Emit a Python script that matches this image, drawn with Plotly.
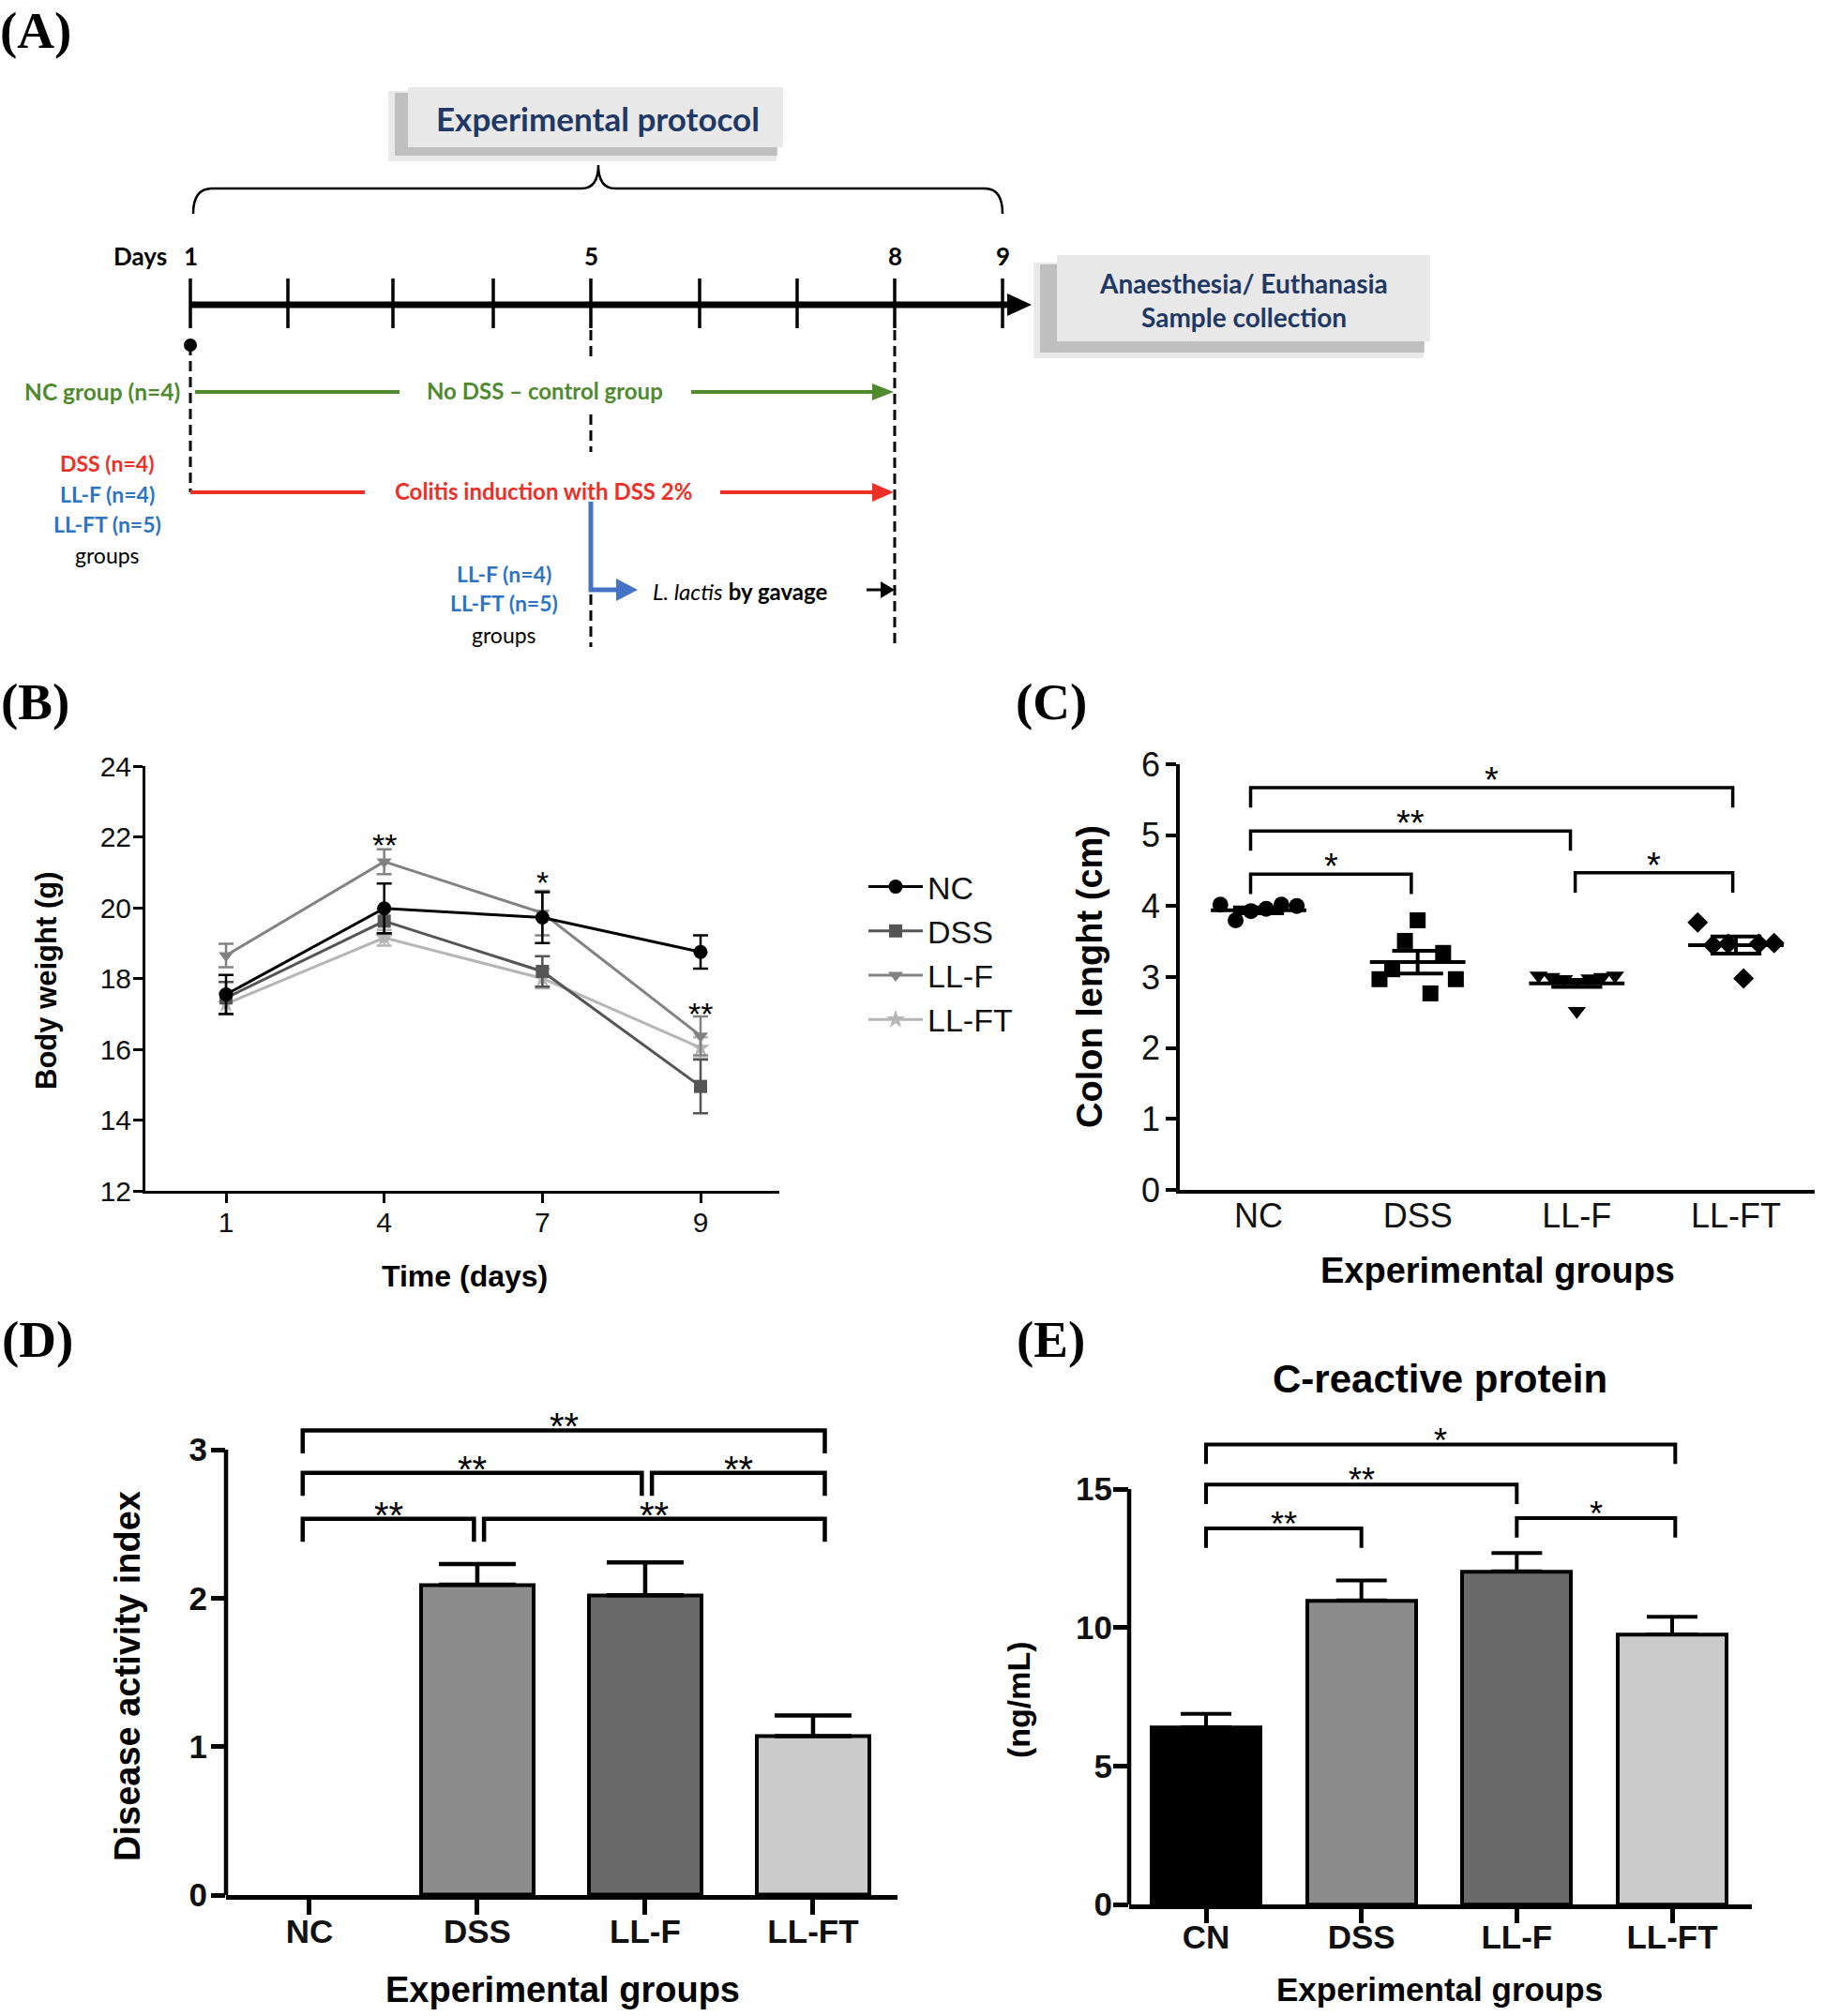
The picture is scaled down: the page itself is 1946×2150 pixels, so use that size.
import plotly.graph_objects as go
import numpy as np

W, H = 1946, 2150

# ---------------- DATA ----------------
# Panel B - body weight over time
days = ['1', '4', '7', '9']
bw_groups = ['NC', 'DSS', 'LL-F', 'LL-FT']
bw_nc = [17.55, 19.98, 19.72, 18.75]
bw_nc_err = [0.55, 0.70, 0.72, 0.47]
bw_dss = [17.45, 19.62, 18.20, 14.95]
bw_dss_err = [0.45, 0.35, 0.43, 0.76]
bw_llf = [18.65, 21.30, 19.85, 16.38]
bw_llf_err = [0.33, 0.35, 0.63, 0.55]
bw_llft = [17.28, 19.15, 18.00, 16.04]
bw_llft_err = [0.30, 0.22, 0.28, 0.30]
bw_sig = ['', '**', '*', '**']
bw_sig_y = [0, 21.95, 20.90, 17.20]

# Panel C - colon length
groups = ['NC', 'DSS', 'LL-F', 'LL-FT']
colon_nc = [4.02, 3.80, 3.93, 3.96, 4.02, 4.00]
colon_dss = [2.97, 3.11, 3.51, 3.80, 2.77, 3.34, 2.97]
colon_llf = [3.02, 3.00, 2.97, 2.52, 2.98, 3.00, 3.02]
colon_llft = [3.77, 3.45, 3.47, 2.98, 3.47, 3.48]
colon_mean = [3.94, 3.21, 2.91, 3.45]
colon_sem = [0.04, 0.16, 0.05, 0.12]
colon_cmp = [(0, 1, 4.45, '*'), (0, 2, 5.06, '**'), (0, 3, 5.67, '*'), (2, 3, 4.47, '*')]

# Panel D - disease activity index
dai = [0.0, 2.09, 2.02, 1.07]
dai_err = [0.0, 0.14, 0.22, 0.14]
dai_cmp = [(0, 1, 2.535, '**'), (1, 3, 2.535, '**'), (0, 2, 2.844, '**'),
           (2, 3, 2.844, '**'), (0, 3, 3.13, '**')]

# Panel E - C-reactive protein
crp_groups = ['CN', 'DSS', 'LL-F', 'LL-FT']
crp = [6.40, 10.98, 12.03, 9.75]
crp_err = [0.48, 0.72, 0.66, 0.64]
crp_cmp = [(0, 1, 13.58, '**'), (0, 2, 15.16, '**'), (0, 3, 16.61, '*'), (2, 3, 13.95, '*')]

# ---------------- helpers ----------------
def px(x):
    return x / W

def py(y):
    return 1 - y / H

SANS = 'Liberation Sans'
LATO = 'Lato'
NAVY = '#1f3864'
GREEN = '#4f8a2e'
RED = '#ec3027'
BLUE = '#2e74c0'
ARROWBLUE = '#4472c4'

fig = go.Figure()
shapes = []
annos = []


def pline(x0, y0, x1, y1, color='black', width=3, dash=None):
    d = dict(type='line', xref='paper', yref='paper', x0=px(x0), y0=py(y0), x1=px(x1), y1=py(y1),
             line=dict(color=color, width=width))
    if dash:
        d['line']['dash'] = dash
    shapes.append(d)


def prect(x0, y0, x1, y1, fill, opacity=1.0):
    shapes.append(dict(type='rect', xref='paper', yref='paper', x0=px(x0), y0=py(y1), x1=px(x1), y1=py(y0),
                       fillcolor=fill, opacity=opacity, line=dict(width=0), layer='below'))


def ppath(points, fill):
    p = 'M ' + ' L '.join(f'{px(a):.5f},{py(b):.5f}' for a, b in points) + ' Z'
    shapes.append(dict(type='path', xref='paper', yref='paper', path=p, fillcolor=fill, line=dict(width=0)))


def ptext(x, y, text, size, color='black', family=LATO, bold=False, angle=0, xanchor='center',
          yanchor='middle'):
    annos.append(dict(xref='paper', yref='paper', x=px(x), y=py(y), text=text, showarrow=False,
                      xanchor=xanchor, yanchor=yanchor, textangle=angle,
                      font=dict(family=family, size=size, color=color, weight='bold' if bold else 'normal')))

# ---------------- Panel A (schematic) ----------------
ptext(38, 0, '(A)', 55, family='Liberation Serif', bold=True, yanchor='top')
# Experimental protocol box with shadow
prect(414, 97, 828, 172, '#9a9a9a', 0.22)
prect(421, 99, 829, 166, '#8c8c8c', 0.45)
prect(435, 93, 835, 157, '#e8e8e8')
ptext(637, 126, 'Experimental protocol', 35, NAVY, bold=True)
# brace
bp = [(206, 228), (206, 201), (226, 201), (620, 201), (638, 201), (638, 176), (638, 201), (656, 201),
      (1050, 201), (1069, 201), (1069, 228)]
def P(a):
    return f'{px(a[0]):.5f},{py(a[1]):.5f}'
brace = (f'M {P(bp[0])} Q {P(bp[1])} {P(bp[2])} L {P(bp[3])} Q {P(bp[4])} {P(bp[5])} '
         f'Q {P(bp[6])} {P(bp[7])} L {P(bp[8])} Q {P(bp[9])} {P(bp[10])}')
shapes.append(dict(type='path', xref='paper', yref='paper', path=brace, line=dict(color='black', width=2.5)))

# timeline
tl_days = [1, 2, 3, 4, 5, 6, 7, 8, 9]
tl_x = [203, 307, 419, 526, 630, 746, 850, 954, 1069]
tl_labels = {1: '1', 5: '5', 8: '8', 9: '9'}
pline(203, 325, 1078, 325, width=7)
ppath([(1074, 313), (1100, 325), (1074, 337)], 'black')
for d, xx in zip(tl_days, tl_x):
    pline(xx, 297, xx, 350, width=3.5)
    if d in tl_labels:
        ptext(xx, 273, tl_labels[d], 26, bold=True)
ptext(149, 273, 'Days', 26, bold=True)

# Anaesthesia box
prect(1102, 280, 1518, 382, '#9a9a9a', 0.22)
prect(1109, 282, 1519, 376, '#8c8c8c', 0.45)
prect(1127, 272, 1525, 364, '#e8e8e8')
ptext(1326, 302, 'Anaesthesia/ Euthanasia', 28, NAVY, bold=True)
ptext(1326, 338, 'Sample collection', 28, NAVY, bold=True)

# start dot and dashed guides
shapes.append(dict(type='circle', xref='paper', yref='paper', x0=px(196), x1=px(210), y0=py(375), y1=py(361),
                   fillcolor='black', line=dict(width=0)))
DASH = '11px,6px'
pline(203, 368, 203, 525, width=3, dash=DASH)
pline(630, 352, 630, 386, width=3, dash=DASH)
pline(630, 442, 630, 482, width=3, dash=DASH)
pline(630, 634, 630, 690, width=3, dash=DASH)
pline(954, 352, 954, 690, width=3, dash=DASH)

# NC row
ptext(109, 417, 'NC group (n=4)', 24.5, GREEN, bold=True)
pline(208, 418, 426, 418, GREEN, 4)
ptext(581, 416, 'No DSS \u2013 control group', 24, GREEN, bold=True)
pline(737, 418, 935, 418, GREEN, 4)
ppath([(930, 409), (953, 418), (930, 427)], GREEN)

# DSS row
pline(203, 525, 389, 525, RED, 4)
ptext(579, 523, 'Colitis induction with DSS 2%', 24, RED, bold=True)
pline(768, 525, 935, 525, RED, 4)
ppath([(930, 515), (953, 525), (930, 535)], RED)
ptext(114, 494, 'DSS (n=4)', 23, RED, bold=True)
ptext(114, 527, 'LL-F (n=4)', 23, BLUE, bold=True)
ptext(114, 559, 'LL-FT (n=5)', 23, BLUE, bold=True)
ptext(114, 592, 'groups', 23, 'black')

# gavage branch
pline(630, 535, 630, 631, ARROWBLUE, 5)
pline(628, 629, 662, 629, ARROWBLUE, 5)
ppath([(657, 617), (680, 629), (657, 641)], ARROWBLUE)
ptext(789, 630, '<i>L. lactis</i> <b>by gavage</b>', 24, 'black')
pline(924, 629, 944, 629, 'black', 3)
ppath([(939, 620), (954, 629), (939, 638)], 'black')
ptext(537, 612, 'LL-F (n=4)', 23, BLUE, bold=True)
ptext(537, 643, 'LL-FT (n=5)', 23, BLUE, bold=True)
ptext(537, 677, 'groups', 23, 'black')

# ---------------- Panel letters ----------------
ptext(37, 748, '(B)', 55, family='Liberation Serif', bold=True)
ptext(1121, 748, '(C)', 55, family='Liberation Serif', bold=True)
ptext(40, 1428, '(D)', 55, family='Liberation Serif', bold=True)
ptext(1120, 1428, '(E)', 55, family='Liberation Serif', bold=True)

# ---------------- Panel B ----------------
styles_b = {
    'NC': dict(color='#000000', symbol='circle', size=15),
    'DSS': dict(color='#555555', symbol='square', size=14),
    'LL-F': dict(color='#828282', symbol='triangle-down', size=14),
    'LL-FT': dict(color='#b5b5b5', symbol='star', size=15),
}
bw_vals = {'NC': (bw_nc, bw_nc_err), 'DSS': (bw_dss, bw_dss_err),
           'LL-F': (bw_llf, bw_llf_err), 'LL-FT': (bw_llft, bw_llft_err)}
xb = list(range(len(days)))
for rank, g in reversed(list(enumerate(bw_groups))):
    v, e = bw_vals[g]
    st = styles_b[g]
    fig.add_trace(go.Scatter(
        x=xb, y=v, mode='lines+markers', name=g, legendgroup=g, legendrank=rank + 1,
        line=dict(color=st['color'], width=3),
        marker=dict(symbol=st['symbol'], size=st['size'], color=st['color']),
        error_y=dict(type='data', array=e, visible=True, color=st['color'], thickness=2.5, width=8),
        xaxis='x', yaxis='y', hoverinfo='skip'))
for i, (s, yy) in enumerate(zip(bw_sig, bw_sig_y)):
    if s:
        annos.append(dict(xref='x', yref='y', x=xb[i], y=yy, text=s, showarrow=False, yanchor='middle',
                          yshift=-7, font=dict(family=SANS, size=34, color='black')))
ptext(49, 1046, 'Body weight (g)', 31, family=SANS, bold=True, angle=-90)
ptext(495, 1361, 'Time (days)', 32, family=SANS, bold=True)

# ---------------- Panel C ----------------
colon_pts = [colon_nc, colon_dss, colon_llf, colon_llft]
symbols_c = ['circle', 'square', 'triangle-down', 'diamond']
for i, vals in enumerate(colon_pts):
    xs = i + np.linspace(-0.24, 0.24, len(vals))
    fig.add_trace(go.Scatter(x=xs, y=vals, mode='markers', showlegend=False, hoverinfo='skip',
                             marker=dict(symbol=symbols_c[i], size=17, color='black'),
                             xaxis='x2', yaxis='y2'))
mx, my = [], []
for i, (m, s) in enumerate(zip(colon_mean, colon_sem)):
    mx += [i - 0.3, i + 0.3, None, i - 0.16, i + 0.16, None, i - 0.16, i + 0.16, None, i, i, None]
    my += [m, m, None, m + s, m + s, None, m - s, m - s, None, m - s, m + s, None]
fig.add_trace(go.Scatter(x=mx, y=my, mode='lines', line=dict(color='black', width=4), showlegend=False,
                         hoverinfo='skip', xaxis='x2', yaxis='y2'))


def brackets(cmp, drop, xa, ya, width, soff, eoff, size, star_shift):
    bx, by = [], []
    for (i, j, yb, lab) in cmp:
        a = i + soff(i)
        b = j + eoff(j)
        bx += [a, a, b, b, None]
        by += [yb - drop, yb, yb, yb - drop, None]
        annos.append(dict(xref=xa, yref=ya, x=(a + b) / 2, y=yb, text=lab, showarrow=False, yanchor='bottom',
                          yshift=star_shift, font=dict(family=SANS, size=size, color='black')))
    fig.add_trace(go.Scatter(x=bx, y=by, mode='lines', line=dict(color='black', width=width), showlegend=False,
                             hoverinfo='skip', xaxis=xa, yaxis=ya))

brackets(colon_cmp, 0.28, 'x2', 'y2', 3.5, lambda i: -0.05 if i == 0 else -0.01,
         lambda j: -0.04 if j < 3 else -0.02, 38, -15)
ptext(1162, 1042, 'Colon lenght (cm)', 38, family=SANS, bold=True, angle=-90)
ptext(1597, 1355, 'Experimental groups', 38, family=SANS, bold=True)


def bar_errors(xs, vals, errs, xa, ya, thick, capw):
    # upper error bars (mean + SEM) only where an error exists
    ex = [x for x, e in zip(xs, errs) if e > 0]
    ey = [v for v, e in zip(vals, errs) if e > 0]
    ee = [e for e in errs if e > 0]
    fig.add_trace(go.Scatter(x=ex, y=ey, mode='markers', marker=dict(size=1, opacity=0), showlegend=False,
                             hoverinfo='skip', xaxis=xa, yaxis=ya,
                             error_y=dict(type='data', symmetric=False, array=ee, arrayminus=[0] * len(ee),
                                          color='black', thickness=thick, width=capw)))

# ---------------- Panel D ----------------
bar_cols_d = ['#ffffff', '#8c8c8c', '#6a6a6a', '#cbcbcb']
xd = list(range(len(groups)))
bar_errors(xd, dai, dai_err, 'x3', 'y3', 4.5, 41)
fig.add_trace(go.Bar(x=xd, y=dai, width=0.675, showlegend=False, hoverinfo='skip',
                     marker=dict(color=bar_cols_d,
                                 line=dict(color='black', width=[0 if v == 0 else 4 for v in dai])),
                     xaxis='x3', yaxis='y3'))
brackets(dai_cmp, 0.155, 'x3', 'y3', 4.5, lambda i: -0.04 if i == 0 else 0.04,
         lambda j: 0.07 if j == 3 else -0.02, 40, -20)
shapes.append(dict(type='line', xref='x3 domain', yref='y3', x0=0, x1=0, y0=-0.014, y1=3,
                   line=dict(color='black', width=4.5)))
ptext(136, 1788, 'Disease activity index', 38, family=SANS, bold=True, angle=-90)
ptext(600, 2122, 'Experimental groups', 38, family=SANS, bold=True)

# ---------------- Panel E ----------------
bar_cols_e = ['#000000', '#8c8c8c', '#6a6a6a', '#cbcbcb']
xe = list(range(len(crp_groups)))
bar_errors(xe, crp, crp_err, 'x4', 'y4', 4, 27)
fig.add_trace(go.Bar(x=xe, y=crp, width=0.70, showlegend=False, hoverinfo='skip',
                     marker=dict(color=bar_cols_e, line=dict(color='black', width=4)),
                     xaxis='x4', yaxis='y4'))
brackets(crp_cmp, 0.7, 'x4', 'y4', 4, lambda i: 0.0, lambda j: 0.02 if j == 3 else 0.0, 36, -18)
shapes.append(dict(type='line', xref='x4 domain', yref='y4', x0=0, x1=0, y0=-0.08, y1=15,
                   line=dict(color='black', width=4.5)))
ptext(1535, 1470, 'C-reactive protein', 42, family=SANS, bold=True)
ptext(1086, 1813, '(ng/mL)', 34, family=SANS, bold=True, angle=-90)
ptext(1535, 2121, 'Experimental groups', 35, family=SANS, bold=True)

# ---------------- axes ----------------
def ax(**kw):
    base = dict(showgrid=False, zeroline=False, color='black', linecolor='black', tickcolor='black',
                automargin=False)
    base.update(kw)
    return base

fig.update_layout(
    width=W, height=H, margin=dict(l=0, r=0, t=0, b=0, pad=0, autoexpand=False),
    paper_bgcolor='white', plot_bgcolor='rgba(0,0,0,0)',
    shapes=shapes, annotations=annos, bargap=0, barmode='overlay',
    legend=dict(x=px(921), y=py(917), xanchor='left', yanchor='top', bgcolor='rgba(0,0,0,0)',
                font=dict(family=SANS, size=34, color='#111111'), tracegroupgap=0, traceorder='grouped',
                itemwidth=58),
    xaxis=ax(domain=[px(155), px(831)], range=[-0.51, 3.498], anchor='y', tickvals=xb, ticktext=days,
             showline=True, linewidth=3, ticks='outside', ticklen=10, tickwidth=3,
             tickfont=dict(family=SANS, size=30, color='#111111'), ticklabelstandoff=-5),
    yaxis=ax(domain=[py(1270), py(817)], range=[12, 24], anchor='x', dtick=2, tick0=12,
             showline=True, linewidth=3, ticks='outside', ticklen=10, tickwidth=3,
             tickfont=dict(family=SANS, size=30, color='#111111'), ticklabelstandoff=-4),
    xaxis2=ax(domain=[px(1258), px(1935)], range=[-0.495, 3.495], anchor='y2', tickvals=list(range(4)),
              ticktext=groups, showline=True, linewidth=3.5, ticks='',
              tickfont=dict(family=SANS, size=36, color='#111111'), ticklabelstandoff=-7),
    yaxis2=ax(domain=[py(1269), py(815)], range=[0, 6], anchor='x2', dtick=1,
              showline=True, linewidth=3.5, ticks='outside', ticklen=11, tickwidth=3.5,
              tickfont=dict(family=SANS, size=36, color='#111111'), ticklabelstandoff=-1),
    xaxis3=ax(domain=[px(241), px(957)], range=[-0.497, 3.503], anchor='y3', tickvals=xd, ticktext=groups,
              showline=True, linewidth=4.5, ticks='outside', ticklen=16, tickwidth=4.5,
              tickfont=dict(family=SANS, size=35, color='#111111', weight='bold'), ticklabelstandoff=-12),
    yaxis3=ax(domain=[py(2021), py(2021 - 3.3 * 158.33)], range=[0, 3.3], anchor='x3',
              tickvals=[0, 1, 2, 3], showline=False, ticks='outside', ticklen=15, tickwidth=4.5,
              tickfont=dict(family=SANS, size=35, color='#111111', weight='bold'), ticklabelstandoff=-3),
    xaxis4=ax(domain=[px(1204), px(1868)], range=[-0.495, 3.513], anchor='y4', tickvals=xe,
              ticktext=crp_groups, showline=True, linewidth=4.5, ticks='outside', ticklen=15, tickwidth=4.5,
              tickfont=dict(family=SANS, size=35, color='#111111', weight='bold'), ticklabelstandoff=-15),
    yaxis4=ax(domain=[py(2031), py(2031 - 17.3 * 29.53)], range=[0, 17.3], anchor='x4',
              tickvals=[0, 5, 10, 15], showline=False, ticks='outside', ticklen=16, tickwidth=4.5,
              tickfont=dict(family=SANS, size=35, color='#111111', weight='bold'), ticklabelstandoff=-6),
)

fig.write_html("out.html", config={'displayModeBar': False},
               post_script='document.body.style.margin="0px";')
